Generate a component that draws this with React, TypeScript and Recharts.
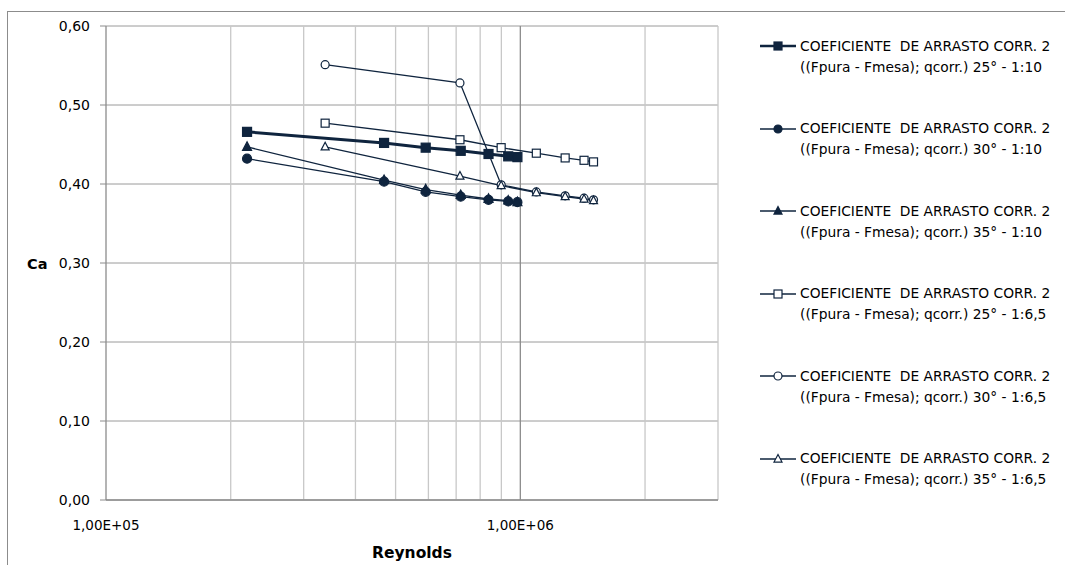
import React from 'react';
import { LineChart, Line, XAxis, YAxis, CartesianGrid, ReferenceLine } from 'recharts';

const NAVY = '#0F243E';
const FONT = '"DejaVu Sans", sans-serif';

// Reynolds numbers (x) for the two model scales
const reynolds110 = [219000, 469000, 591000, 718000, 838000, 935000, 984000];
const reynolds165 = [338000, 715000, 899000, 1093000, 1283000, 1425000, 1502000];

// Drag coefficient Ca per series
const ca25_110 = [0.466, 0.452, 0.446, 0.442, 0.438, 0.435, 0.434];
const ca30_110 = [0.432, 0.403, 0.390, 0.384, 0.380, 0.378, 0.377];
const ca35_110 = [0.447, 0.405, 0.393, 0.386, 0.381, 0.379, 0.377];
const ca25_165 = [0.477, 0.456, 0.446, 0.439, 0.433, 0.430, 0.428];
const ca30_165 = [0.551, 0.528, 0.399, 0.390, 0.385, 0.382, 0.380];
const ca35_165 = [0.447, 0.410, 0.398, 0.389, 0.384, 0.381, 0.379];

const yTicks = [0, 0.1, 0.2, 0.3, 0.4, 0.5, 0.6];
const xTicks = [100000, 1000000];
const minorGrid = [200000, 300000, 400000, 500000, 600000, 700000, 800000, 900000, 2000000, 3000000];
const majorGrid = [1000000];

const LINE1 = 'COEFICIENTE  DE ARRASTO CORR. 2';
const seriesLabels = [
  '((Fpura - Fmesa); qcorr.) 25° - 1:10',
  '((Fpura - Fmesa); qcorr.) 30° - 1:10',
  '((Fpura - Fmesa); qcorr.) 35° - 1:10',
  '((Fpura - Fmesa); qcorr.) 25° - 1:6,5',
  '((Fpura - Fmesa); qcorr.) 30° - 1:6,5',
  '((Fpura - Fmesa); qcorr.) 35° - 1:6,5',
];

type Shape = 'square' | 'circle' | 'triangle';

const zip = (xs: number[], ys: number[]) => xs.map((x, i) => ({ x, y: ys[i] }));

const series = [
  { data: zip(reynolds110, ca25_110), shape: 'square' as Shape, filled: true, width: 3 },
  { data: zip(reynolds110, ca30_110), shape: 'circle' as Shape, filled: true, width: 1.3 },
  { data: zip(reynolds110, ca35_110), shape: 'triangle' as Shape, filled: true, width: 1.3 },
  { data: zip(reynolds165, ca25_165), shape: 'square' as Shape, filled: false, width: 1.3 },
  { data: zip(reynolds165, ca30_165), shape: 'circle' as Shape, filled: false, width: 1.3 },
  { data: zip(reynolds165, ca35_165), shape: 'triangle' as Shape, filled: false, width: 1.3 },
];

function marker(shape: Shape, filled: boolean, cx: number, cy: number, s: number, key?: any) {
  const fill = filled ? NAVY : '#fff';
  const sw = 1.2;
  if (shape === 'square') {
    return <rect key={key} x={cx - s / 2} y={cy - s / 2} width={s} height={s} fill={fill} stroke={NAVY} strokeWidth={sw} />;
  }
  if (shape === 'circle') {
    return <circle key={key} cx={cx} cy={cy} r={s / 2} fill={fill} stroke={NAVY} strokeWidth={sw} />;
  }
  const h = s * 0.95;
  const pts = `${cx},${cy - h * 0.6} ${cx + s / 2},${cy + h * 0.4} ${cx - s / 2},${cy + h * 0.4}`;
  return <polygon key={key} points={pts} fill={fill} stroke={NAVY} strokeWidth={sw} />;
}

const makeDot = (shape: Shape, filled: boolean) => (props: any) => {
  const { cx, cy, index } = props;
  if (cx == null || cy == null) return <g key={index} />;
  return marker(shape, filled, cx, cy, filled ? 9 : 8, index);
};

const fmtX = (v: number) => {
  const e = Math.round(Math.log10(v));
  const m = v / Math.pow(10, e);
  return `${m.toFixed(2).replace('.', ',')}E+${String(e).padStart(2, '0')}`;
};

const XTick = (props: any) => {
  const { x, payload } = props;
  return (
    <text x={x} y={525} textAnchor="middle" dominantBaseline="central" fontFamily={FONT} fontSize={13.5} fill="#000">
      {fmtX(payload.value)}
    </text>
  );
};

const YTick = (props: any) => {
  const { y, payload } = props;
  return (
    <text x={90} y={y} textAnchor="end" dominantBaseline="central" fontFamily={FONT} fontSize={14} fill="#000">
      {payload.value.toFixed(2).replace('.', ',')}
    </text>
  );
};

export default function App() {
  return (
    <div style={{ position: 'absolute', left: 0, top: 0, width: 1065, height: 565, overflow: 'hidden', background: '#fff' }}>
      <div style={{ position: 'absolute', left: 7, top: 11, width: 1200, height: 700, borderLeft: '1px solid #8c8c8c', borderTop: '1px solid #8c8c8c' }} />
      <div style={{ position: 'absolute', left: 0, top: 0 }}>
        <LineChart width={1065} height={565} margin={{ top: 26, right: 347, bottom: 0, left: 0 }}>
          <CartesianGrid vertical={false} stroke="#9a9a9a" strokeWidth={1} />
          {minorGrid.map((v) => (
            <ReferenceLine key={v} x={v} stroke="#c8c8c8" strokeWidth={1.3} ifOverflow="visible" />
          ))}
          {majorGrid.map((v) => (
            <ReferenceLine key={v} x={v} stroke="#8c8c8c" strokeWidth={1.3} ifOverflow="visible" />
          ))}
          <XAxis
            type="number"
            dataKey="x"
            scale="log"
            domain={[100000, 3000000]}
            allowDataOverflow
            ticks={xTicks}
            tick={<XTick />}
            tickLine={false}
            axisLine={{ stroke: '#8c8c8c', strokeWidth: 1.3 }}
            height={65}
            label={{
              content: () => (
                <text x={412} y={553} textAnchor="middle" dominantBaseline="central" fontFamily={FONT} fontWeight="bold" fontSize={15.5} fill="#000">
                  Reynolds
                </text>
              ),
            }}
          />
          <YAxis
            type="number"
            domain={[0, 0.6]}
            ticks={yTicks}
            tick={<YTick />}
            tickLine={{ stroke: '#8c8c8c' }}
            tickSize={6}
            axisLine={{ stroke: '#8c8c8c', strokeWidth: 1.3 }}
            width={106}
            label={{
              content: () => (
                <text x={27} y={264} textAnchor="start" dominantBaseline="central" fontFamily={FONT} fontWeight="bold" fontSize={14.5} fill="#000">
                  Ca
                </text>
              ),
            }}
          />
          {series.map((s, i) => (
            <Line
              key={i}
              data={s.data}
              dataKey="y"
              type="linear"
              stroke={NAVY}
              strokeWidth={s.width}
              dot={makeDot(s.shape, s.filled)}
              activeDot={false}
              isAnimationActive={false}
            />
          ))}
        </LineChart>
      </div>
      {series.map((s, i) => {
        const cy = 46 + i * 82.5;
        return (
          <div key={i} style={{ position: 'absolute', left: 758, top: cy - 12, width: 300 }}>
            <svg width={40} height={24} style={{ position: 'absolute', left: 0, top: 0 }}>
              <line x1={2} y1={12} x2={38} y2={12} stroke={NAVY} strokeWidth={s.width > 2 ? 2.5 : 1.3} />
              {marker(s.shape, s.filled, 20, 12, 8)}
            </svg>
            <div style={{ position: 'absolute', left: 42, top: 0, fontFamily: FONT, fontSize: 13.8, lineHeight: '21px', whiteSpace: 'pre', color: '#000', marginTop: 1.5 }}>
              <div>{LINE1}</div>
              <div>{seriesLabels[i]}</div>
            </div>
          </div>
        );
      })}
    </div>
  );
}
